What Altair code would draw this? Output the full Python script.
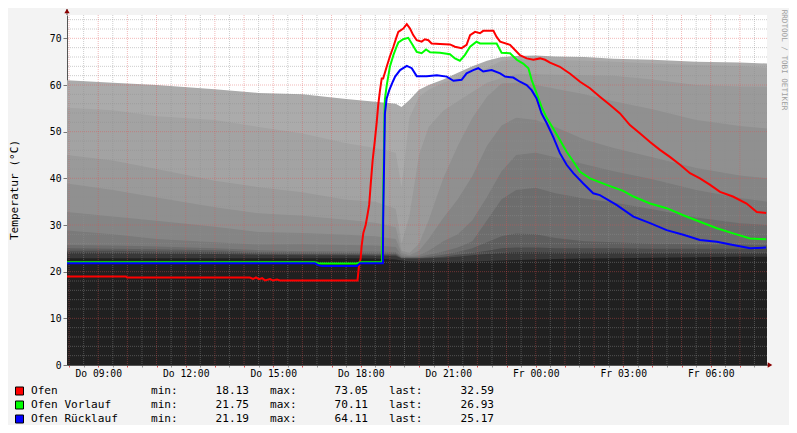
import altair as alt
import pandas as pd

# ---------------- data ----------------
# time axis: hours since Thursday 00:00
X_DOMAIN = [7.93, 31.93]
Y_DOMAIN = [0, 75]

# background gray bands (top value of each band)
bg_hours = [7.93, 9.5, 11, 13, 14.5, 16, 17.5, 18.5, 19.2, 19.4, 19.67, 20, 20.33, 20.83,
            21.33, 21.83, 22.33, 22.83, 23.33, 24, 24.67, 25.67, 26.67, 28, 29.5, 31, 31.93]
band_1 = [61.0, 60.5, 60.0, 59.1, 58.3, 58.0, 57.0, 56.4, 56.0, 55.3, 56.8, 59.0, 60.0, 61.2,
          62.6, 64.0, 65.2, 66.0, 66.2, 66.3, 66.1, 66.0, 65.6, 65.4, 65.0, 64.8, 64.6]
band_2 = [55.1, 54.6, 53.3, 52.5, 51.0, 49.6, 47.5, 46.5, 45.5, 38.0, 53.0, 57.5, 59.0, 60.5,
          61.5, 62.8, 63.6, 65.2, 65.4, 65.4, 65.3, 65.2, 65.0, 64.6, 64.3, 64.0, 63.7]
band_3 = [45.0, 43.8, 42.0, 39.5, 38.1, 37.0, 35.4, 35.0, 33.5, 26.0, 32.0, 45.0, 51.0, 54.5,
          56.5, 58.5, 60.5, 61.5, 62.3, 62.3, 62.2, 62.1, 62.0, 61.2, 60.0, 59.7, 59.6]
band_4 = [38.9, 37.5, 35.9, 33.8, 32.5, 32.0, 31.1, 30.5, 29.5, 24.5, 24.0, 26.0, 31.0, 40.0,
          47.0, 53.0, 57.5, 60.3, 60.5, 60.0, 59.2, 58.0, 56.5, 54.8, 52.5, 51.2, 50.7]
band_5 = [32.8, 31.8, 30.9, 29.6, 28.5, 28.3, 27.9, 27.6, 27.0, 24.0, 23.5, 24.5, 27.0, 31.5,
          35.5, 40.5, 47.0, 51.3, 53.0, 52.5, 51.0, 48.3, 46.5, 44.5, 42.2, 40.6, 40.0]
band_6 = [28.8, 28.0, 27.0, 26.3, 25.8, 25.9, 25.7, 25.6, 25.3, 23.5, 23.3, 23.5, 24.5, 26.5,
          28.0, 31.0, 36.0, 41.5, 45.0, 45.5, 44.5, 43.0, 41.5, 39.8, 37.5, 35.8, 35.0]
band_7 = [25.7, 25.6, 25.4, 25.0, 24.6, 24.4, 24.3, 24.3, 24.2, 23.2, 23.1, 23.2, 23.6, 24.3,
          25.2, 26.5, 31.0, 35.5, 37.5, 38.0, 36.8, 35.7, 34.8, 33.4, 31.6, 30.4, 30.0]
band_8 = [25.0, 24.9, 24.8, 24.6, 24.2, 24.1, 24.0, 23.9, 23.9, 23.0, 23.0, 23.0, 23.2, 23.6,
          24.2, 25.0, 26.3, 27.6, 28.2, 28.0, 27.2, 26.5, 26.3, 26.0, 25.9, 25.8, 25.7]
band_9 = [24.5, 24.5, 24.3, 24.2, 23.9, 23.8, 23.7, 23.6, 23.6, 22.9, 22.9, 22.9, 23.0, 23.2,
          23.6, 24.0, 24.5, 25.0, 25.2, 25.2, 25.0, 25.0, 25.0, 24.9, 24.9, 24.9, 24.9]
band_10 = [24.1, 24.0, 23.9, 23.8, 23.6, 23.5, 23.5, 23.4, 23.4, 22.8, 22.8, 22.8, 22.9, 23.0,
           23.2, 23.5, 23.8, 24.0, 24.2, 24.2, 24.1, 24.1, 24.1, 24.0, 24.0, 24.0, 24.0]
band_11 = [22.9, 22.9, 22.9, 22.9, 22.9, 22.9, 22.9, 22.8, 22.6, 22.4, 22.2, 22.1, 22.1, 22.1,
           22.1, 22.2, 22.3, 22.4, 22.5, 22.6, 22.7, 22.8, 22.9, 23.0, 23.1, 23.2, 23.2]
bands = [band_1, band_2, band_3, band_4, band_5, band_6, band_7, band_8, band_9, band_10, band_11]
band_colors = ["#ababab", "#a3a3a3", "#9a9a9a", "#909090", "#858585", "#7a7a7a",
               "#6d6d6d", "#5e5e5e", "#4c4c4c", "#383838", "#202020"]

# Ofen (red)
ofen_h = [7.93, 9.95, 9.99, 14.20, 14.31, 14.41, 14.51, 14.62, 14.72, 14.89, 14.99, 15.13, 15.23,
          17.89, 17.94, 18.00, 18.03, 18.09, 18.17, 18.23, 18.29, 18.35, 18.41, 18.48, 18.55,
          18.60, 18.66, 18.72, 18.77, 18.89, 19.00, 19.12, 19.23, 19.29, 19.46, 19.58, 19.69,
          19.80, 19.92, 20.09, 20.20, 20.32, 20.43, 20.72, 21.06, 21.23, 21.46, 21.63, 21.75,
          21.92, 22.09, 22.20, 22.55, 22.66, 22.78, 23.12, 23.29, 23.46, 23.69, 23.92, 24.15,
          24.32, 24.49, 24.83, 25.18, 25.52, 25.86, 26.20, 26.55, 26.89, 27.23, 27.58, 27.92,
          28.26, 28.60, 28.95, 29.29, 29.63, 29.98, 30.32, 30.76, 31.23, 31.58, 31.90]
ofen_v = [18.95, 18.95, 18.75, 18.75, 18.45, 18.75, 18.4, 18.6, 18.13, 18.4, 18.13, 18.3, 18.13,
          18.13, 21.2, 22.9, 25.4, 28.3, 30.0, 32.1, 34.3, 39.3, 43.9, 47.8, 52.1,
          55.7, 58.8, 61.4, 61.4, 63.9, 66.1, 68.2, 70.3, 71.4, 72.1, 73.05, 72.1,
          70.7, 69.6, 69.3, 69.8, 69.6, 68.9, 68.8, 68.7, 68.2, 67.9, 68.6, 70.7,
          71.4, 71.1, 71.6, 71.6, 70.3, 69.3, 68.6, 67.5, 66.4, 65.7, 65.4, 65.7,
          65.4, 64.8, 63.9, 62.4, 60.7, 59.3, 57.5, 55.7, 53.9, 51.4, 49.6, 47.8,
          46.1, 44.6, 42.9, 41.1, 40.0, 38.6, 37.1, 36.1, 34.6, 32.8, 32.59]

# Ofen Vorlauf (green)
vorlauf_h = [7.93, 16.43, 16.54, 17.87, 17.98, 18.73, 18.76, 18.82, 18.83, 18.89, 19.00, 19.12,
             19.23, 19.29, 19.46, 19.63, 19.75, 19.92, 20.09, 20.24, 20.38, 20.72, 21.06, 21.23,
             21.40, 21.57, 21.75, 21.97, 22.09, 22.66, 22.83, 23.12, 23.35, 23.57, 23.75, 23.86,
             24.03, 24.20, 24.38, 24.60, 24.83, 25.06, 25.29, 25.52, 25.86, 26.43, 27.00, 27.35,
             27.92, 28.49, 29.06, 29.63, 30.21, 30.77, 31.35, 31.90]
vorlauf_v = [22.0, 22.0, 21.75, 21.75, 22.0, 22.0, 32.0, 55.0, 57.0, 59.8, 63.9, 66.4,
             68.2, 69.1, 69.8, 70.11, 68.9, 67.1, 66.8, 67.6, 67.0, 66.9, 66.6, 65.7,
             65.2, 66.4, 68.2, 69.3, 68.9, 68.9, 66.9, 66.8, 65.4, 64.6, 63.6, 61.1,
             58.2, 55.3, 52.9, 50.7, 48.2, 45.7, 43.6, 41.4, 40.0, 38.6, 37.3, 36.1,
             34.6, 33.6, 32.1, 30.7, 29.3, 28.2, 27.1, 26.93]

# Ofen Ruecklauf (blue)
ruecklauf_h = [7.93, 16.43, 16.54, 16.67, 17.87, 17.98, 18.76, 18.77, 18.83, 18.89, 18.98, 19.10,
               19.18, 19.35, 19.58, 19.75, 19.92, 20.26, 20.61, 20.95, 21.18, 21.46, 21.63, 21.86,
               22.03, 22.20, 22.49, 22.78, 22.95, 23.23, 23.46, 23.69, 23.86, 24.03, 24.20, 24.38,
               24.60, 24.83, 25.06, 25.29, 25.63, 25.97, 26.20, 26.77, 27.35, 27.92, 28.49, 29.06,
               29.63, 30.21, 30.77, 31.35, 31.90]
ruecklauf_v = [21.8, 21.8, 21.4, 21.19, 21.19, 21.8, 21.8, 31.1, 53.9, 57.1, 58.9, 60.7,
               61.8, 63.2, 64.11, 63.6, 61.9, 61.9, 62.1, 61.8, 60.9, 61.1, 62.5, 63.2,
               63.6, 62.9, 63.2, 62.5, 61.8, 61.6, 60.7, 60.0, 58.9, 57.1, 53.9, 51.8,
               48.9, 45.4, 42.9, 41.1, 38.9, 36.8, 36.4, 34.3, 31.8, 30.4, 28.9, 27.9,
               26.8, 26.4, 25.7, 25.0, 25.17]

legend_names = ["Ofen", "Ofen Vorlauf", "Ofen Rücklauf"]
legend_colors = ["#ff0000", "#00ff00", "#0000ff"]
legend_min = [18.13, 21.75, 21.19]
legend_max = [73.05, 70.11, 64.11]
legend_last = [32.59, 26.93, 25.17]

x_minor = [h + 0.5 for h in range(8, 32)]
x_major = list(range(8, 32))
x_ticks = [h * 0.5 for h in range(16, 64)]
y_minor = [v for v in range(2, 76, 2) if v % 10]
y_major = list(range(10, 80, 10))
y_labels = list(range(0, 80, 10))

MONO = "DejaVu Sans Mono"

# ---------------- encodings ----------------
x_scale = alt.Scale(domain=X_DOMAIN, nice=False, zero=False)
y_scale = alt.Scale(domain=Y_DOMAIN, nice=False)

label_expr = ("datum.value % 3 === 0 ? ((datum.value < 24 ? 'Do ' : 'Fr ') + "
              "(datum.value % 24 < 10 ? '0' : '') + (datum.value % 24) + ':00') : ''")

x_axis = alt.Axis(values=x_ticks, labelExpr=label_expr, title=None, grid=False,
                  domainColor="#555555", tickSize=2,
                  tickColor={"condition": {"test": "datum.value % 1 === 0", "value": "#de5151"},
                             "value": "#999999"},
                  labelFont=MONO, labelFontSize=9.7, labelColor="#000000", labelPadding=1.5,
                  labelOverlap=False, labelFlush=False)
y_axis = alt.Axis(values=y_labels, title=None, grid=False, domainColor="#555555",
                  tickSize=4, tickColor="#777777", labelFont=MONO, labelFontSize=9.7,
                  labelColor="#000000", labelPadding=2)


def X(field):
    return alt.X(field, type="quantitative", scale=x_scale, axis=x_axis)


def Y(field):
    return alt.Y(field, type="quantitative", scale=y_scale, axis=y_axis)


layers = []

# gray bands, lightest (highest) first
for vals, col in zip(bands, band_colors):
    df = pd.DataFrame({"h": bg_hours, "v": vals})
    layers.append(alt.Chart(df).mark_area(color=col, opacity=1).encode(x=X("h"), y=Y("v")))

# grid
layers.append(alt.Chart(pd.DataFrame({"h": x_minor})).mark_rule(
    color="#8f8f8f", opacity=0.45, strokeDash=[1, 1], strokeWidth=1).encode(x=X("h")))
layers.append(alt.Chart(pd.DataFrame({"v": y_minor})).mark_rule(
    color="#8f8f8f", opacity=0.45, strokeDash=[1, 1], strokeWidth=1).encode(y=Y("v")))
layers.append(alt.Chart(pd.DataFrame({"h": x_major})).mark_rule(
    color="#de5151", opacity=0.4, strokeDash=[1, 1], strokeWidth=1).encode(x=X("h")))
layers.append(alt.Chart(pd.DataFrame({"v": y_major})).mark_rule(
    color="#de5151", opacity=0.4, strokeDash=[1, 1], strokeWidth=1).encode(y=Y("v")))

# data lines
for hs, vs, col in [(ofen_h, ofen_v, "#ff0000"), (vorlauf_h, vorlauf_v, "#00ff00"),
                    (ruecklauf_h, ruecklauf_v, "#0000ff")]:
    df = pd.DataFrame({"h": hs, "v": vs})
    layers.append(alt.Chart(df).mark_line(color=col, strokeWidth=2).encode(x=X("h"), y=Y("v")))

# axis arrows and extension of the y axis line
layers.append(alt.Chart(pd.DataFrame({"a": [1]})).mark_rule(color="#555555").encode(
    x=alt.value(0), y=alt.value(-6), y2=alt.value(0)))
layers.append(alt.Chart(pd.DataFrame({"a": [1]})).mark_point(
    shape="triangle-up", filled=True, size=28, color="#8b0000", opacity=1).encode(
    x=alt.value(0), y=alt.value(-4)))
layers.append(alt.Chart(pd.DataFrame({"a": [1]})).mark_rule(color="#555555").encode(
    x=alt.value(700), x2=alt.value(704), y=alt.value(350)))
layers.append(alt.Chart(pd.DataFrame({"a": [1]})).mark_point(
    shape="triangle-right", filled=True, size=28, color="#8b0000", opacity=1).encode(
    x=alt.value(703), y=alt.value(350)))

# y axis title
layers.append(alt.Chart(pd.DataFrame({"t": ["Temperatur (°C)"]})).mark_text(
    angle=270, font=MONO, fontSize=11.1, align="center", baseline="middle", color="#000000").encode(
    x=alt.value(-52), y=alt.value(175), text="t:N"))

# watermark
layers.append(alt.Chart(pd.DataFrame({"t": ["RRDTOOL / TOBI OETIKER"]})).mark_text(
    angle=90, font=MONO, fontSize=7.6, align="center", baseline="middle", color="#a0a0a0").encode(
    x=alt.value(717), y=alt.value(45), text="t:N"))

# legend boxes
for i, col in enumerate(legend_colors):
    layers.append(alt.Chart(pd.DataFrame({"c": [col]})).mark_point(
        shape="square", filled=True, size=64, stroke="#000000", strokeWidth=1, opacity=1).encode(
        x=alt.value(-47.5), y=alt.value(376 + 14 * i), fill=alt.Fill("c:N", scale=None)))

# legend text columns
legend_cols = [
    ("\n".join(legend_names), -36, "left"),
    ("\n".join(["min:"] * 3), 84, "left"),
    ("\n".join(f"{v:.2f}" for v in legend_min), 182, "right"),
    ("\n".join(["max:"] * 3), 203, "left"),
    ("\n".join(f"{v:.2f}" for v in legend_max), 301, "right"),
    ("\n".join(["last:"] * 3), 322, "left"),
    ("\n".join(f"{v:.2f}" for v in legend_last), 427, "right"),
]
for txt, xpos, al in legend_cols:
    layers.append(alt.Chart(pd.DataFrame({"t": [txt]})).mark_text(
        font=MONO, fontSize=11.1, align=al, baseline="middle", lineBreak="\n", lineHeight=14,
        color="#000000").encode(x=alt.value(xpos), y=alt.value(376), text="t:N"))

chart = alt.layer(*layers).properties(
    width=700, height=350,
    autosize=alt.AutoSizeParams(type="none"),
    padding={"left": 59, "top": 7, "right": 22, "bottom": 60},
    background="#f3f3f3",
).configure_view(fill="#ffffff", strokeWidth=0)

chart.save("out.html", embed_options={"renderer": "svg", "actions": False})
